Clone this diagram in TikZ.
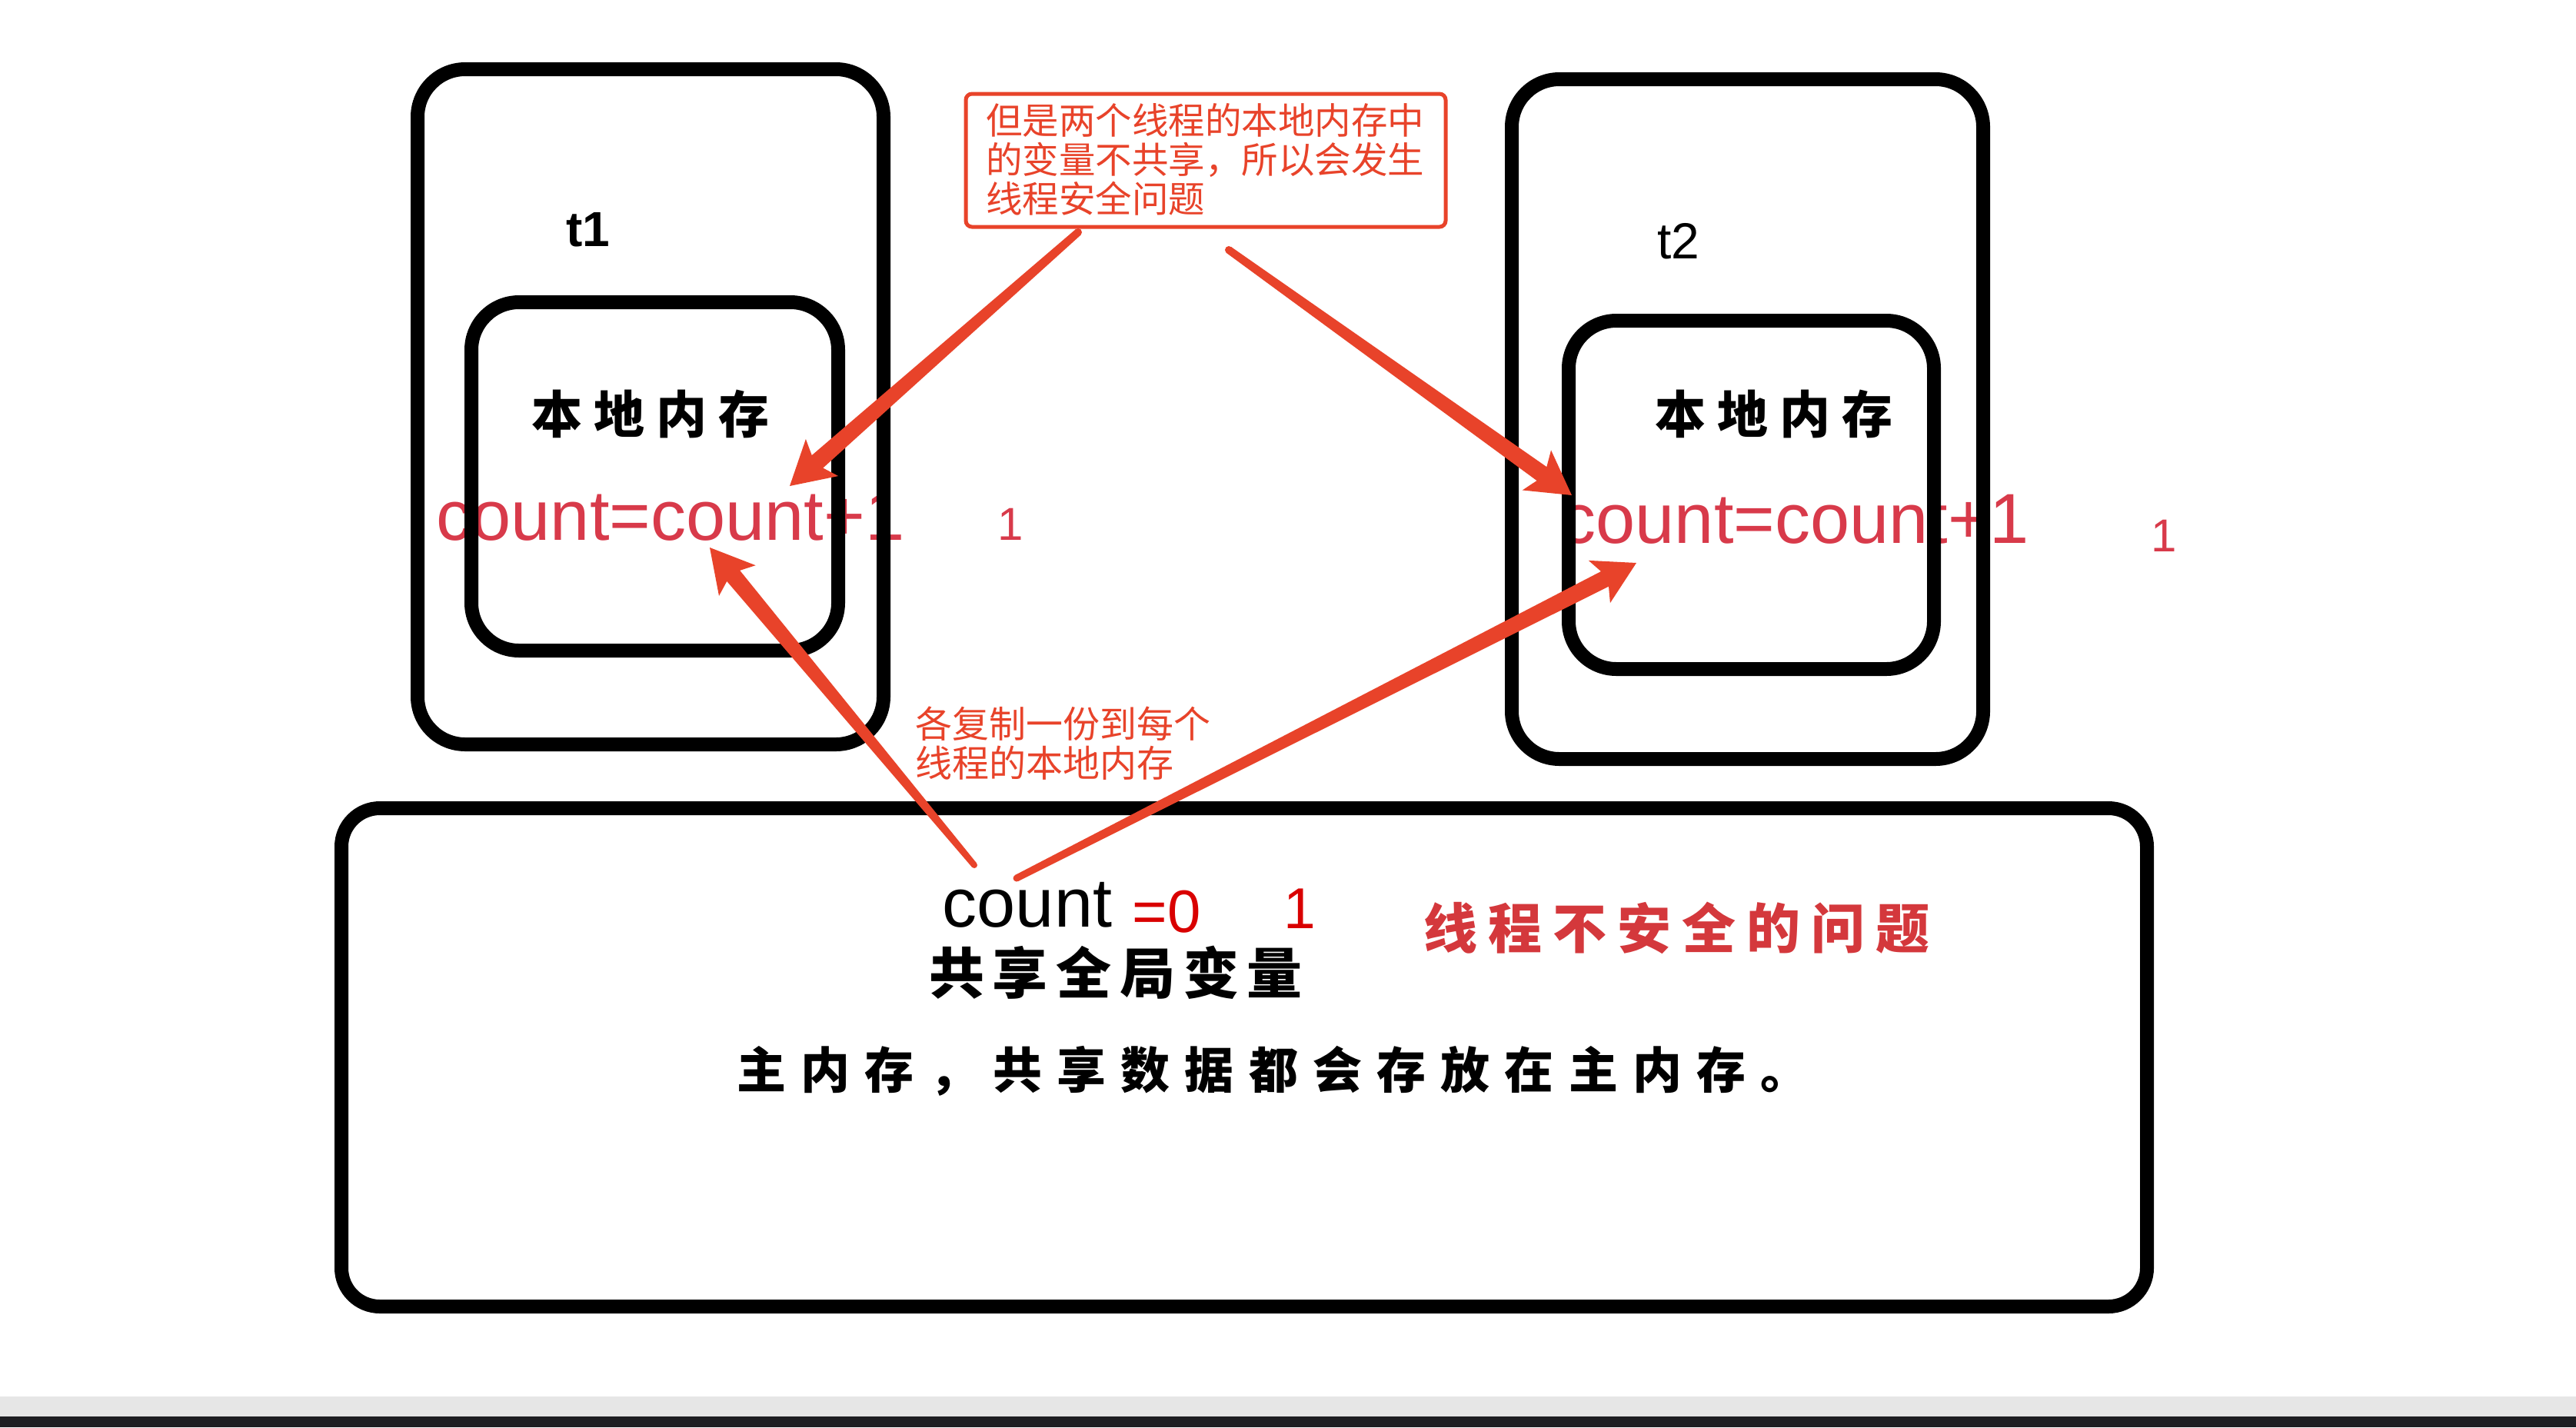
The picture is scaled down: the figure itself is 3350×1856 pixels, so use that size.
\documentclass[tikz,border=0pt]{standalone}
\usepackage{fontspec}
\setmainfont{Liberation Sans}
\newfontfamily\cjk{Noto Sans CJK SC}
\usetikzlibrary{calc}
\definecolor{arrowred}{RGB}{232,67,42}
\definecolor{pinkred}{RGB}{216,58,74}
\definecolor{titlered}{RGB}{212,56,60}
\definecolor{barback}{RGB}{30,30,34}
\definecolor{stripgray}{RGB}{230,230,230}
\tikzset{
  membox/.style={draw=black, line width=18pt, rounded corners=62pt, inner sep=0pt},
  callbox/.style={draw=arrowred, line width=5pt, rounded corners=8pt, inner sep=0pt},
  tlabel/.style={inner sep=0pt, font=\fontsize{66}{66}\selectfont},
  cnt/.style={inner sep=0pt, text=pinkred, font=\fontsize{92}{92}\selectfont},
  one/.style={inner sep=0pt, text=pinkred, font=\fontsize{60}{60}\selectfont},
  calli/.style={inner sep=0pt, font=\cjk\bfseries},
  redtext/.style={inner sep=0pt, text=arrowred, align=left, anchor=west}
}
% tapered arrow: #1 tail, #2 tip, #3 tail half width, #4 shaft half width at head,
% #5 barb half width, #6 head length
\newcommand{\taperarrow}[6]{%
  \coordinate (ta-b) at ($(#2)!#6!(#1)$);
  \coordinate (ta-n) at ($(#2)!#6-8pt!(#1)$);
  \fill[arrowred] ($(#1)!#3!90:(#2)$) -- ($(ta-n)!#4!-90:(#1)$) -- ($(ta-b)!#5!-90:(#1)$)
     -- (#2) -- ($(ta-b)!#5!90:(#1)$) -- ($(ta-n)!#4!90:(#1)$) -- ($(#1)!#3!-90:(#2)$) -- cycle;
  \fill[arrowred] (#1) circle[radius=#3];
}
\begin{document}
\begin{tikzpicture}[x=1pt,y=-1pt]
\useasboundingbox (0,0) rectangle (3350,1856);
\fill[white] (0,0) rectangle (3350,1856);
\fill[stripgray] (0,1816) rectangle (3350,1842);
\fill[barback] (0,1842) rectangle (3350,1856);

% texts under the box lines
\node[cnt] (c1) at (872,671) {count=count+1};
\node[cnt] (c2) at (2334,675) {count=count+1};
\node[one] (one1) at (1314,682) {1};
\node[one] (one2) at (2814,697) {1};

% memory boxes
\node[membox, minimum width=606pt, minimum height=878pt] (t1o) at (846,529) {};
\node[membox, minimum width=477pt, minimum height=453pt] (t1i) at (851.5,619.5) {};
\node[membox, minimum width=613pt, minimum height=884pt] (t2o) at (2272.5,545) {};
\node[membox, minimum width=475pt, minimum height=453pt] (t2i) at (2277.5,643.5) {};
\node[membox, minimum width=2348pt, minimum height=648pt, rounded corners=50pt] (mainmem) at (1618,1375) {};

\node[tlabel, font=\bfseries\fontsize{64}{64}\selectfont] (t1lab) at (765,299) {t1};
\node[tlabel] (t2lab) at (2183,314) {t2};

\node[calli, font=\cjk\bfseries\fontsize{66}{66}\selectfont\addfontfeature{LetterSpace=23}] (l1) at (846,538) {本地内存};
\node[calli, font=\cjk\bfseries\fontsize{66}{66}\selectfont\addfontfeature{LetterSpace=23}] (l2) at (2307,538) {本地内存};

% main memory texts
\node[inner sep=0pt, font=\fontsize{90}{90}\selectfont] (mcount) at (1336,1177) {count};
\node[inner sep=0pt, text=red!85!black, font=\fontsize{78}{78}\selectfont] (meq) at (1517,1186) {=0};
\node[inner sep=0pt, text=red!85!black, font=\fontsize{75}{75}\selectfont] (mone) at (1690,1182) {1};
\node[calli, font=\cjk\bfseries\fontsize{72}{72}\selectfont\addfontfeature{LetterSpace=15}] (shared) at (1451,1265) {共享全局变量};
\node[calli, text=titlered, font=\cjk\bfseries\fontsize{70}{70}\selectfont\addfontfeature{LetterSpace=20}] (unsafe) at (2180,1207) {线程不安全的问题};
\node[calli, font=\cjk\bfseries\fontsize{64}{64}\selectfont\addfontfeature{LetterSpace=30}] (mainline) at (1656,1393) {主内存，共享数据都会存放在主内存。};

% callout
\node[callbox, minimum width=624pt, minimum height=173pt] (cb) at (1568,208.5) {};
\node[redtext, font=\cjk\fontsize{47.5}{51}\selectfont] (cbtext) at (1282,207) {但是两个线程的本地内存中\\的变量不共享，所以会发生\\线程安全问题};

\node[redtext, font=\cjk\fontsize{48}{51}\selectfont] (copytext) at (1190,967) {各复制一份到每个\\线程的本地内存};

% arrow end points
\coordinate (a1t) at (1402,302);
\coordinate (a1h) at (1027,632);
\coordinate (a2t) at (1598,325);
\coordinate (a2h) at (2044,644);
\coordinate (a3t) at (1267,1125);
\coordinate (a3h) at (923,712);
\coordinate (a4t) at (1322,1142);
\coordinate (a4h) at (2128,732);

\taperarrow{a1t}{a1h}{5pt}{11pt}{32pt}{56pt}
\taperarrow{a2t}{a2h}{5pt}{11pt}{32pt}{56pt}
\taperarrow{a3t}{a3h}{4pt}{11pt}{31pt}{56pt}
\taperarrow{a4t}{a4h}{4.5pt}{11pt}{31pt}{54pt}
\end{tikzpicture}
\end{document}
